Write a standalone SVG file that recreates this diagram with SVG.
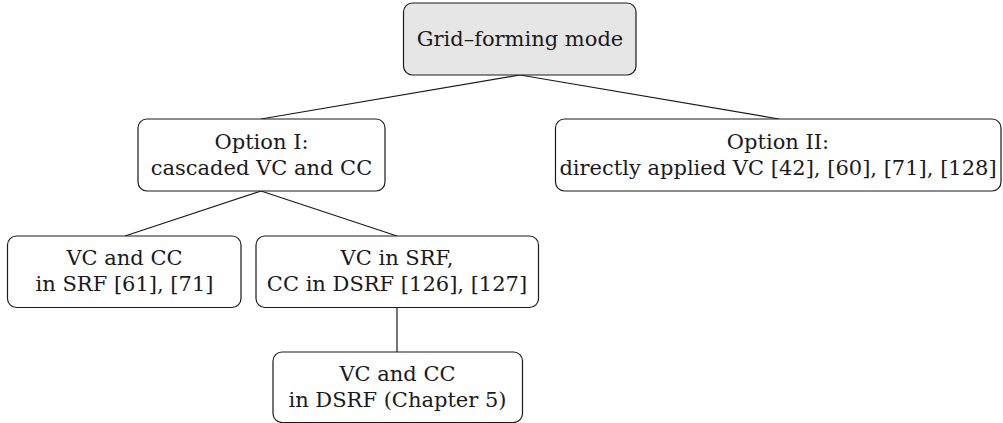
<svg xmlns="http://www.w3.org/2000/svg" width="1003" height="423" viewBox="0 0 1003 423">
<style>
.box{fill:#ffffff;stroke:#1a1a1a;stroke-width:1.2}
.root{fill:#e6e6e6}
.t{font-family:"DejaVu Serif","Liberation Serif",serif;font-size:21px;fill:#1a1a1a;text-anchor:middle}
.edge{stroke:#1a1a1a;stroke-width:1.2;fill:none}
</style>
<rect width="1003" height="423" fill="#ffffff"/>
<g id="connectors">
<line class="edge" x1="520" y1="75" x2="261" y2="119"/>
<line class="edge" x1="520" y1="75" x2="779" y2="119"/>
<line class="edge" x1="261" y1="191" x2="125" y2="236"/>
<line class="edge" x1="261" y1="191" x2="397" y2="236"/>
<line class="edge" x1="397" y1="307" x2="397" y2="352"/>
</g>
<g id="root">
<rect class="box root" x="403.5" y="3" width="232.5" height="72" rx="9"/>
<text class="t" x="520" y="46">Grid–forming mode</text>
</g>
<g id="option1">
<rect class="box" x="138" y="119" width="247" height="72" rx="9"/>
<text class="t" x="261.5" y="148.5">Option I:</text>
<text class="t" x="261.5" y="175">cascaded VC and CC</text>
</g>
<g id="option2">
<rect class="box" x="555.5" y="119" width="445.5" height="72" rx="9"/>
<text class="t" x="778" y="148.5">Option II:</text>
<text class="t" x="778" y="175">directly applied VC [42], [60], [71], [128]</text>
</g>
<g id="srf">
<rect class="box" x="7.5" y="236" width="233.5" height="71.5" rx="9"/>
<text class="t" x="124.5" y="264.5">VC and CC</text>
<text class="t" x="124.5" y="291">in SRF [61], [71]</text>
</g>
<g id="srf-dsrf">
<rect class="box" x="256" y="236" width="282.5" height="71.5" rx="9"/>
<text class="t" x="397" y="264.5">VC in SRF,</text>
<text class="t" x="397" y="291">CC in DSRF [126], [127]</text>
</g>
<g id="dsrf">
<rect class="box" x="273" y="352" width="249.5" height="70.5" rx="9"/>
<text class="t" x="397.5" y="380.5">VC and CC</text>
<text class="t" x="397.5" y="407">in DSRF (Chapter 5)</text>
</g>
</svg>
